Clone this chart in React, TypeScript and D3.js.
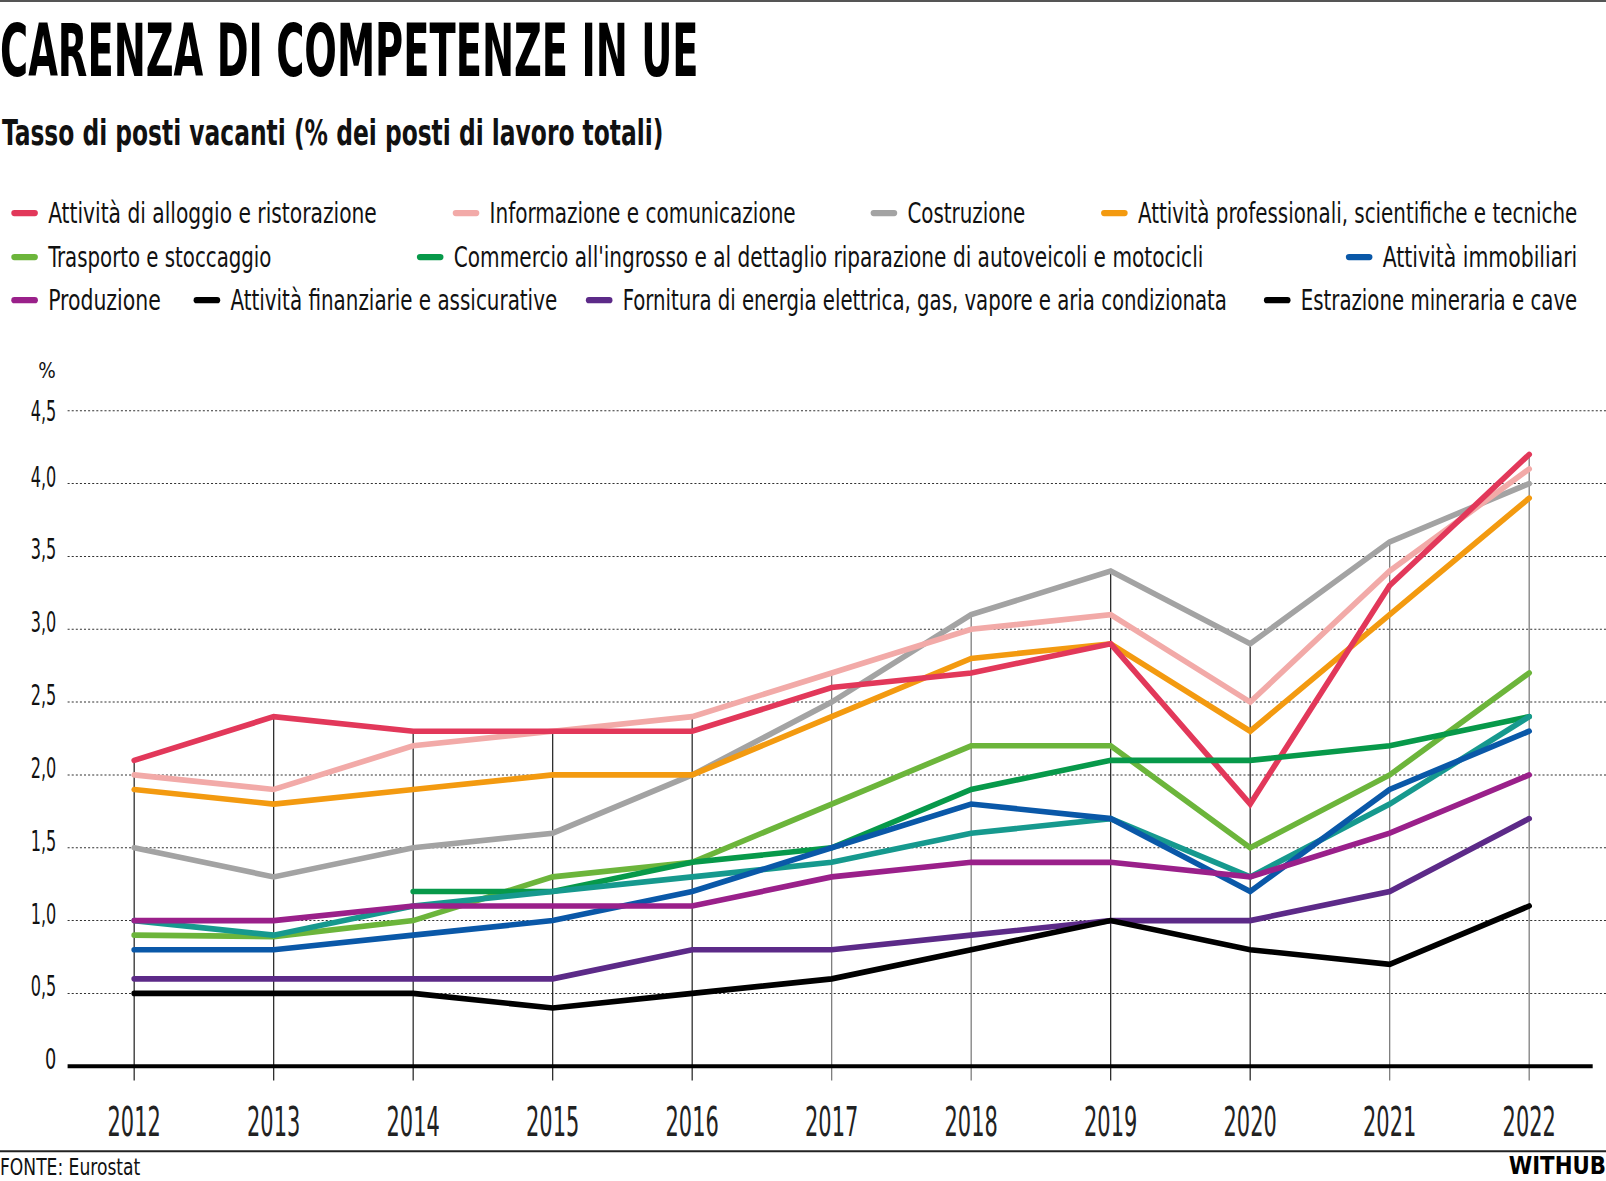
import React, { useLayoutEffect, useRef, useState } from "react";
import * as d3 from "d3";

const years = [2012, 2013, 2014, 2015, 2016, 2017, 2018, 2019, 2020, 2021, 2022];
const yTicks = [0, 0.5, 1, 1.5, 2, 2.5, 3, 3.5, 4, 4.5];

const alloggio = [2.1, 2.4, 2.3, 2.3, 2.3, 2.6, 2.7, 2.9, 1.8, 3.3, 4.2];
const informazione = [2.0, 1.9, 2.2, 2.3, 2.4, 2.7, 3.0, 3.1, 2.5, 3.4, 4.1];
const costruzione = [1.5, 1.3, 1.5, 1.6, 2.0, 2.5, 3.1, 3.4, 2.9, 3.6, 4.0];
const professionali = [1.9, 1.8, 1.9, 2.0, 2.0, 2.4, 2.8, 2.9, 2.3, 3.1, 3.9];
const trasporto = [0.9, 0.89, 1.0, 1.3, 1.4, 1.8, 2.2, 2.2, 1.5, 2.0, 2.7];
const commercio = [null, null, 1.2, 1.2, 1.4, 1.5, 1.9, 2.1, 2.1, 2.2, 2.4];
const immobiliari = [0.8, 0.8, 0.9, 1.0, 1.2, 1.5, 1.8, 1.7, 1.2, 1.9, 2.3];
const finanziarie = [1.0, 0.9, 1.1, 1.2, 1.3, 1.4, 1.6, 1.7, 1.3, 1.8, 2.4];
const produzione = [1.0, 1.0, 1.1, 1.1, 1.1, 1.3, 1.4, 1.4, 1.3, 1.6, 2.0];
const energia = [0.6, 0.6, 0.6, 0.6, 0.8, 0.8, 0.9, 1.0, 1.0, 1.2, 1.7];
const estrazione = [0.5, 0.5, 0.5, 0.4, 0.5, 0.6, 0.8, 1.0, 0.8, 0.7, 1.1];

type Series = { name: string; values: (number | null)[]; color: string; legendColor: string };

const series: Series[] = [
  { name: "Costruzione", values: costruzione, color: "#a3a3a3", legendColor: "#a3a3a3" },
  { name: "Informazione e comunicazione", values: informazione, color: "#f2aaa8", legendColor: "#f2aaa8" },
  { name: "Attività professionali, scientifiche e tecniche", values: professionali, color: "#f39a10", legendColor: "#f39a10" },
  { name: "Attività di alloggio e ristorazione", values: alloggio, color: "#e2385a", legendColor: "#e2385a" },
  { name: "Trasporto e stoccaggio", values: trasporto, color: "#6cb53b", legendColor: "#6cb53b" },
  { name: "Commercio all'ingrosso e al dettaglio riparazione di autoveicoli e motocicli", values: commercio, color: "#07994a", legendColor: "#07994a" },
  { name: "Attività finanziarie e assicurative", values: finanziarie, color: "#16998e", legendColor: "#000000" },
  { name: "Attività immobiliari", values: immobiliari, color: "#0a58a8", legendColor: "#0a58a8" },
  { name: "Produzione", values: produzione, color: "#9a208a", legendColor: "#9a208a" },
  { name: "Fornitura di energia elettrica, gas, vapore e aria condizionata", values: energia, color: "#5c2a88", legendColor: "#5c2a88" },
  { name: "Estrazione mineraria e cave", values: estrazione, color: "#000000", legendColor: "#000000" },
];

// legend layout: [series name, text start x, text width, row]
const legendItems: [string, number, number, number][] = [
  ["Attività di alloggio e ristorazione", 47, 321, 0],
  ["Informazione e comunicazione", 478, 299, 0],
  ["Costruzione", 886, 115, 0],
  ["Attività professionali, scientifiche e tecniche", 1111, 429, 0],
  ["Trasporto e stoccaggio", 47, 219, 1],
  ["Commercio all'ingrosso e al dettaglio riparazione di autoveicoli e motocicli", 443, 732, 1],
  ["Attività immobiliari", 1350, 190, 1],
  ["Produzione", 47, 110, 2],
  ["Attività finanziarie e assicurative", 225, 319, 2],
  ["Fornitura di energia elettrica, gas, vapore e aria condizionata", 608, 590, 2],
  ["Estrazione mineraria e cave", 1270, 270, 2],
];

const FONT = "'DejaVu Sans Condensed', 'Roboto', sans-serif";

type FitProps = {
  x: number;
  y: number;
  width: number;
  fontSize: number;
  fontWeight?: number;
  anchor?: "start" | "middle" | "end";
  fill?: string;
  children: string;
};

function FitText({ x, y, width, fontSize, fontWeight = 400, anchor = "start", fill = "#111", children }: FitProps) {
  const ref = useRef<SVGTextElement>(null);
  const [sx, setSx] = useState(0.7);
  useLayoutEffect(() => {
    if (ref.current) {
      const w = ref.current.getBBox().width;
      if (w > 0) setSx(width / w);
    }
  }, [width, children, fontSize]);
  return (
    <g transform={`translate(${x},${y}) scale(${sx},1)`}>
      <text ref={ref} x={0} y={0} fontSize={fontSize} fontWeight={fontWeight} textAnchor={anchor} fill={fill}>
        {children}
      </text>
    </g>
  );
}

export default function App() {
  const W = 1568;
  const H = 1153;
  const x = d3.scaleLinear().domain([2012, 2022]).range([131, 1493]);
  const y = d3.scaleLinear().domain([0, 4.5]).range([1041, 401]);
  const legendRowY = [208, 251, 293];

  const line = d3
    .line<number | null>()
    .defined((d) => d !== null)
    .x((_, i) => x(years[i]))
    .y((d) => y(d as number));

  const maxByYear = years.map((_, i) =>
    d3.max(series, (s) => (s.values[i] === null ? -Infinity : (s.values[i] as number))) as number
  );

  const colorOf = (name: string) => series.find((s) => s.name === name)!.legendColor;
  const tickLabel = (t: number) => (t === 0 ? "0" : d3.format(".1f")(t).replace(".", ","));

  return (
    <>
      <style>{`body{margin:0;}`}</style>
      <svg
        width={1606}
        height={1181}
        viewBox={`0 0 ${W} ${H}`}
        style={{ display: "block", background: "#fff" }}
        fontFamily={FONT}
      >
        <line x1={0} x2={W} y1={1} y2={1} stroke="#555" strokeWidth={2} />
        <FitText x={0} y={74} width={682} fontSize={72} fontWeight={700} fill="#000">
          CARENZA DI COMPETENZE IN UE
        </FitText>
        <FitText x={2} y={142} width={646} fontSize={35} fontWeight={700} fill="#111">
          Tasso di posti vacanti (% dei posti di lavoro totali)
        </FitText>

        {legendItems.map(([name, tx, tw, row]) => (
          <g key={name}>
            <line
              x1={tx - 33}
              x2={tx - 13}
              y1={legendRowY[row]}
              y2={legendRowY[row]}
              stroke={colorOf(name)}
              strokeWidth={6}
              strokeLinecap="round"
            />
            <FitText x={tx} y={legendRowY[row] + 10} width={tw} fontSize={28} fill="#111">
              {name}
            </FitText>
          </g>
        ))}

        <text x={46} y={369} fontSize={20} textAnchor="middle" fill="#111">%</text>

        {yTicks.filter((t) => t > 0).map((t) => (
          <line
            key={"g" + t}
            x1={66}
            x2={W}
            y1={y(t)}
            y2={y(t)}
            stroke="#333"
            strokeWidth={1}
            strokeDasharray="2,2"
          />
        ))}
        {yTicks.map((t) => (
          <FitText
            key={"t" + t}
            x={55}
            y={y(t) + (t === 4.5 ? 10 : 3)}
            width={t === 0 ? 11 : 25}
            fontSize={27}
            anchor="end"
            fill="#111"
          >
            {tickLabel(t)}
          </FitText>
        ))}

        {years.map((yr, i) => (
          <line
            key={"v" + yr}
            x1={x(yr)}
            x2={x(yr)}
            y1={y(maxByYear[i])}
            y2={1055}
            stroke={[5, 6, 9, 10].includes(i) ? "#777" : "#222"}
            strokeWidth={1.2}
          />
        ))}

        {series.map((s) => (
          <path
            key={s.name}
            d={line(s.values) || ""}
            fill="none"
            stroke={s.color}
            strokeWidth={5.5}
            strokeLinejoin="miter"
            strokeLinecap="round"
          />
        ))}

        <line x1={66} x2={1555} y1={y(0)} y2={y(0)} stroke="#000" strokeWidth={4} />

        {years.map((yr) => (
          <FitText
            key={"x" + yr}
            x={x(yr)}
            y={1109}
            width={52}
            fontSize={40}
            anchor="middle"
            fill="#222"
            fontWeight={300}
          >
            {String(yr)}
          </FitText>
        ))}

        <line x1={0} x2={W} y1={1124} y2={1124} stroke="#222" strokeWidth={2} />
        <FitText x={0} y={1147} width={137} fontSize={23} fill="#111">
          FONTE: Eurostat
        </FitText>
        <FitText x={W} y={1146} width={95} fontSize={24} fontWeight={900} anchor="end" fill="#000">
          WITHUB
        </FitText>
      </svg>
    </>
  );
}
